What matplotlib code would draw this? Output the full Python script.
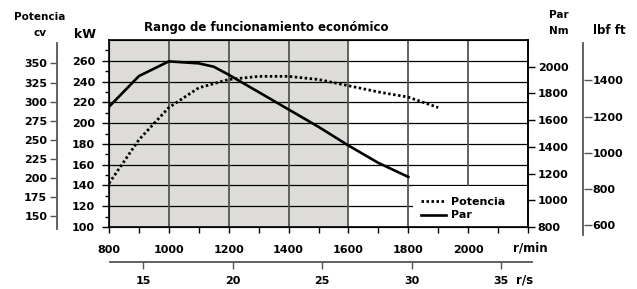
import matplotlib.pyplot as plt
from matplotlib.patches import Rectangle
import numpy as np

# engine data
rpm = [800, 900, 1000, 1100, 1150, 1200, 1300, 1400, 1500, 1600, 1700, 1800]
par_nm = [1700, 1930, 2040, 2025, 2000, 1940, 1810, 1680, 1550, 1410, 1280, 1175]

rpm_pot = [800, 900, 1000, 1100, 1200, 1300, 1400, 1500, 1600, 1700, 1800, 1900]
pot_kw = [142, 184, 215, 234, 242, 245, 245, 242, 236, 230, 225, 215]

kw_ticks = [100, 120, 140, 160, 180, 200, 220, 240, 260]
cv_ticks = [150, 175, 200, 225, 250, 275, 300, 325, 350]
nm_ticks = [800, 1000, 1200, 1400, 1600, 1800, 2000]
lbf_ticks = [600, 800, 1000, 1200, 1400]
rs_ticks = [15, 20, 25, 30, 35]

W, H = 637, 289
FS = 8
plt.rcParams['font.family'] = 'DejaVu Sans'
plt.rcParams['font.weight'] = 'bold'
plt.rcParams['font.size'] = FS

fig = plt.figure(figsize=(W / 100, H / 100), dpi=100)


def box(x0, y0, x1, y1):
    # pixel box (top-left origin) -> figure fraction
    return [x0 / W, 1 - y1 / H, (x1 - x0) / W, (y1 - y0) / H]


def bold_ticks(a):
    for t in a.get_xticklabels() + a.get_yticklabels():
        t.set_fontweight('bold')
        t.set_fontsize(FS)


# main axes: kW vs rpm, y px 40..227 -> 100..280 kW
top, bot = 40, 227
kw_lo, kw_hi = 100, 280
px_per_kw = (bot - top) / (kw_hi - kw_lo)

ax = fig.add_axes(box(109, top, 528, bot))
ax.set_xlim(800, 2200)
ax.set_ylim(kw_lo, kw_hi)
ax.axvspan(800, 1600, color='#dddcd9', zorder=0, lw=0)
for v in [120, 140, 160, 180, 200, 220, 240, 260]:
    ax.axhline(v, color='black', lw=0.9, zorder=1)
for v in [1000, 1200, 1400, 1600, 1800, 2000]:
    ax.axvline(v, color='#555555', lw=1.3, zorder=1)

ax.set_xticks(np.arange(800, 2201, 200))
ax.set_xticklabels([str(v) if v <= 2000 else '' for v in range(800, 2201, 200)])
ax.set_xticks(np.arange(900, 2200, 200), minor=True)
ax.tick_params(axis='x', which='both', direction='out', length=4, width=1, pad=9)
ax.set_yticks(kw_ticks)
ax.set_yticks(np.arange(110, 280, 20), minor=True)
ax.tick_params(axis='y', which='major', direction='out', length=5, width=1, pad=5)
ax.tick_params(axis='y', which='minor', direction='out', length=3, width=1)
for s in ax.spines.values():
    s.set_linewidth(1.2)
bold_ticks(ax)

ax.plot(rpm_pot, pot_kw, color='black', lw=2.0, linestyle=(0, (0.9, 0.9)),
        label='Potencia', zorder=3)

# Par on right axis (Nm)
nm_lo = 800
nm_per_kw = 1400 / 180
ax2 = ax.twinx()
ax2.set_ylim(nm_lo, nm_lo + (kw_hi - kw_lo) * nm_per_kw)
ax2.plot(rpm, par_nm, color='black', lw=1.9, label='Par', zorder=3)
ax2.set_yticks(nm_ticks)
ax2.tick_params(axis='y', direction='out', length=5, width=1, pad=2)
ax2.spines['right'].set_linewidth(1.2)
bold_ticks(ax2)

# legend sits on a white block in the lower right corner
ax2.add_patch(Rectangle((0.7245, 0.004), 0.274, 40 / 187, transform=ax2.transAxes,
                        facecolor='white', edgecolor='none', zorder=4))
h1, l1 = ax.get_legend_handles_labels()
h2, l2 = ax2.get_legend_handles_labels()
leg = ax2.legend(h1 + h2, l1 + l2, loc='lower left', bbox_to_anchor=(0.745, 0.035),
                 frameon=False, borderaxespad=0, borderpad=0, handlelength=2.2,
                 handletextpad=0.5, labelspacing=0.3,
                 prop={'weight': 'bold', 'size': FS})
leg.set_zorder(5)

# cv axis: 1 cv = 0.7355 kW
acv = fig.add_axes(box(57, 43, 58, 229))
lo = kw_lo - (229 - bot) / px_per_kw
hi = kw_lo + (bot - 43) / px_per_kw
acv.set_ylim(lo / 0.7355, hi / 0.7355)
acv.set_xticks([])
acv.set_yticks(cv_ticks)
for k, s in acv.spines.items():
    s.set_visible(k == 'left')
acv.spines['left'].set_color('#555555')
acv.spines['left'].set_linewidth(1.3)
acv.patch.set_visible(False)
acv.tick_params(axis='y', direction='out', length=5, width=1, color='#555555', pad=2)
bold_ticks(acv)

# lbf ft axis: kW scale -> Nm -> lbf ft
acc = fig.add_axes(box(583, 43, 584, 235))
lo = kw_lo - (235 - bot) / px_per_kw
hi = kw_lo + (bot - 43) / px_per_kw
acc.set_ylim((nm_lo + (lo - kw_lo) * nm_per_kw) / 1.3558,
             (nm_lo + (hi - kw_lo) * nm_per_kw) / 1.3558)
acc.set_xticks([])
acc.set_yticks(lbf_ticks)
for k, s in acc.spines.items():
    s.set_visible(k == 'left')
acc.spines['left'].set_color('#555555')
acc.spines['left'].set_linewidth(1.3)
acc.patch.set_visible(False)
acc.yaxis.tick_right()
acc.tick_params(axis='y', direction='out', length=6, width=1, color='#555555', pad=0)
bold_ticks(acc)

# r/s axis below
ars = fig.add_axes(box(110, 250, 532, 262))
ars.set_xlim(15 - 33 / 17.9, 15 + 389 / 17.9)
ars.set_yticks([])
for k, s in ars.spines.items():
    s.set_visible(k == 'bottom')
ars.spines['bottom'].set_color('#555555')
ars.spines['bottom'].set_linewidth(1.3)
ars.patch.set_visible(False)
ars.set_xticks(rs_ticks)
ars.tick_params(axis='x', direction='out', length=5, width=1, color='#555555', pad=5)
bold_ticks(ars)

# labels
fig.text(40 / W, 1 - 17 / H, 'Potencia', ha='center', va='center', fontsize=7.5)
fig.text(40 / W, 1 - 33 / H, 'cv', ha='center', va='center', fontsize=7.5)
fig.text(85 / W, 1 - 34 / H, 'kW', ha='center', va='center', fontsize=9)
fig.text(266 / W, 1 - 28 / H, 'Rango de funcionamiento económico', ha='center',
         va='center', fontsize=8.5)
fig.text(559 / W, 1 - 15 / H, 'Par', ha='center', va='center', fontsize=7.5)
fig.text(559 / W, 1 - 31 / H, 'Nm', ha='center', va='center', fontsize=7.5)
fig.text(609 / W, 1 - 31 / H, 'lbf ft', ha='center', va='center', fontsize=8.5)
fig.text(530 / W, 1 - 248 / H, 'r/min', ha='center', va='center', fontsize=8.5)
fig.text(525 / W, 1 - 280 / H, 'r/s', ha='center', va='center', fontsize=8.5)

fig.savefig('out.png', dpi=100)
